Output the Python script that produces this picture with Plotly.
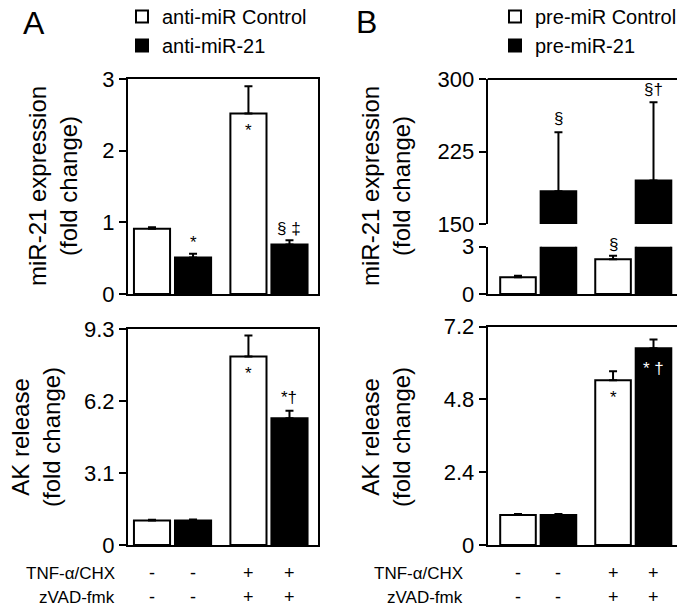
import plotly.graph_objects as go

# ---- data -------------------------------------------------------------
tnf_signs = ["-", "-", "+", "+"]
zvad_signs = ["-", "-", "+", "+"]

# Panel A: anti-miR control vs anti-miR-21
a_mir_ctrl = [0.91, 2.52]
a_mir_ctrl_err = [0.02, 0.38]
a_mir_21 = [0.51, 0.69]
a_mir_21_err = [0.05, 0.06]
a_ak_ctrl = [1.05, 8.12]
a_ak_ctrl_err = [0.04, 0.90]
a_ak_21 = [1.06, 5.46]
a_ak_21_err = [0.04, 0.32]

# Panel B: pre-miR control vs pre-miR-21
b_mir_ctrl = [1.07, 2.21]
b_mir_ctrl_err = [0.08, 0.22]
b_mir_21 = [184, 195]
b_mir_21_err = [61, 81]
b_ak_ctrl = [0.99, 5.43]
b_ak_ctrl_err = [0.03, 0.30]
b_ak_21 = [0.99, 6.49]
b_ak_21_err = [0.03, 0.29]

# ---- layout constants ---------------------------------------------------
# the page body has an 8px margin, so the figure is shrunk by that and all
# positions below are given in window pixels
OFF = 8
W, H = 685 - OFF, 607 - OFF
FONT = "Arial, Liberation Sans, sans-serif"
X_CTRL = [0, 2.35]
X_TREAT = [1, 3.35]
X_ALL = [0, 1, 2.35, 3.35]
BAR_W = 0.88


def px(x):
    return (x - OFF) / W


def py(y):
    return 1 - (y - OFF) / H


A_X = [px(128), px(318)]
B_X = [px(487.7), px(681)]
TOP_Y = [py(294), py(79)]
BOT_Y = [py(545), py(329)]
B_UP_Y = [py(224), py(79)]
B_LO_Y = [py(294), py(246.7)]
B_BOT_Y = [py(545), py(326.7)]

fig = go.Figure()


def bars(x, y, err, color, name, xa, ya, legend=None):
    fig.add_trace(go.Bar(
        x=x, y=y, width=BAR_W, name=name,
        marker=dict(color=color, line=dict(color="black", width=2)),
        error_y=dict(type="data", array=err, arrayminus=[0] * len(err), symmetric=False,
                     color="black", thickness=2, width=4),
        xaxis=xa, yaxis=ya, showlegend=legend is not None, legend=legend or "legend",
        legendgroup=name,
    ))


# A top / bottom
bars(X_CTRL, a_mir_ctrl, a_mir_ctrl_err, "white", "anti-miR Control", "x", "y", "legend")
bars(X_TREAT, a_mir_21, a_mir_21_err, "black", "anti-miR-21", "x", "y", "legend")
bars(X_CTRL, a_ak_ctrl, a_ak_ctrl_err, "white", "anti-miR Control", "x2", "y2")
bars(X_TREAT, a_ak_21, a_ak_21_err, "black", "anti-miR-21", "x2", "y2")

# B top (broken axis: lower y3, upper y4) / bottom
for ya in ["y3", "y4"]:
    first = ya == "y3"
    bars(X_CTRL, b_mir_ctrl, b_mir_ctrl_err, "white", "pre-miR Control", "x3", ya,
         "legend2" if first else None)
    bars(X_TREAT, b_mir_21, b_mir_21_err, "black", "pre-miR-21", "x3", ya,
         "legend2" if first else None)
bars(X_CTRL, b_ak_ctrl, b_ak_ctrl_err, "white", "pre-miR Control", "x4", "y5")
bars(X_TREAT, b_ak_21, b_ak_21_err, "black", "pre-miR-21", "x4", "y5")

tickfont = dict(family=FONT, size=22, color="black")
yax = dict(showline=True, linecolor="black", linewidth=2, ticks="outside", ticklen=7,
           tickwidth=2, tickcolor="black", showgrid=False, zeroline=False,
           tickfont=tickfont, automargin=False)
xax = dict(showline=True, linecolor="black", linewidth=2, ticks="", showticklabels=False,
           showgrid=False, zeroline=False, automargin=False)

fig.update_layout(
    width=W, height=H, margin=dict(l=0, r=0, t=0, b=0, autoexpand=False),
    paper_bgcolor="white", plot_bgcolor="white", barmode="overlay",
    font=dict(family=FONT, color="black"),
    xaxis=dict(**xax, domain=A_X, range=[-0.585, 4.045], anchor="y", mirror=True),
    yaxis=dict(**yax, domain=TOP_Y, range=[0, 3], tickvals=[0, 1, 2, 3], anchor="x", mirror=True),
    xaxis2=dict(**xax, domain=A_X, range=[-0.585, 4.045], anchor="y2", mirror=True),
    yaxis2=dict(**yax, domain=BOT_Y, range=[0, 9.3], tickvals=[0, 3.1, 6.2, 9.3],
                ticktext=["0", "3.1", "6.2", "9.3"], anchor="x2", mirror=True),
    xaxis3=dict(**xax, domain=B_X, range=[-0.749, 4.03], anchor="y3"),
    yaxis3=dict(**yax, domain=B_LO_Y, range=[0, 3], tickvals=[0, 3], anchor="x3"),
    yaxis4=dict(**yax, domain=B_UP_Y, range=[150, 300], tickvals=[150, 225, 300], anchor="x3"),
    xaxis4=dict(**xax, domain=B_X, range=[-0.749, 4.03], anchor="y5", mirror=True),
    yaxis5=dict(**yax, domain=B_BOT_Y, range=[0, 7.2], tickvals=[0, 2.4, 4.8, 7.2],
                ticktext=["0", "2.4", "4.8", "7.2"], anchor="x4", mirror=True),
    legend=dict(x=px(122), y=py(-3), xanchor="left", yanchor="top", itemwidth=30,
                font=dict(family=FONT, size=20), tracegroupgap=0, bgcolor="rgba(0,0,0,0)"),
    legend2=dict(x=px(495), y=py(-3), xanchor="left", yanchor="top", itemwidth=30,
                 font=dict(family=FONT, size=20), tracegroupgap=0, bgcolor="rgba(0,0,0,0)"),
)

# frame of the broken panel: top and right edges
fig.add_shape(type="line", xref="paper", yref="paper", x0=B_X[0], x1=B_X[1],
              y0=B_UP_Y[1], y1=B_UP_Y[1], line=dict(color="black", width=2))
fig.add_shape(type="line", xref="paper", yref="paper", x0=B_X[1], x1=B_X[1],
              y0=B_LO_Y[0], y1=B_UP_Y[1], line=dict(color="black", width=2))


def label(text, x, y, size, xanchor="center", angle=0):
    fig.add_annotation(text=text, x=px(x), y=py(y), xref="paper", yref="paper",
                       xanchor=xanchor, yanchor="middle", textangle=angle,
                       showarrow=False, font=dict(family=FONT, size=size))


# panel letters
label("A", 34, 23, 32)
label("B", 366, 22, 32)

# y titles
label("miR-21 expression<br>(fold change)", 53, 186, 24, angle=-90)
label("AK release<br>(fold change)", 36, 437, 24, angle=-90)
label("miR-21 expression<br>(fold change)", 386, 186, 24, angle=-90)
label("AK release<br>(fold change)", 386, 437, 24, angle=-90)


# significance marks
def mark(text, xa, ya, x, y, shift, color="black", size=17):
    fig.add_annotation(text=text, x=x, y=y, xref=xa, yref=ya, showarrow=False,
                       xanchor="center", yanchor="middle",
                       yshift=shift, font=dict(family=FONT, size=size, color=color))


mark("*", "x", "y", X_TREAT[0], a_mir_21[0] + a_mir_21_err[0], 11)
mark("*", "x", "y", X_CTRL[1], a_mir_ctrl[1], -17)
mark("§ ‡", "x", "y", X_TREAT[1], a_mir_21[1] + a_mir_21_err[1], 12)
mark("*", "x2", "y2", X_CTRL[1], a_ak_ctrl[1], -17)
mark("*†", "x2", "y2", X_TREAT[1], a_ak_21[1] + a_ak_21_err[1], 13)
mark("§", "x3", "y4", X_TREAT[0], b_mir_21[0] + b_mir_21_err[0], 14)
mark("§†", "x3", "y4", X_TREAT[1], b_mir_21[1] + b_mir_21_err[1], 13)
mark("§", "x3", "y3", X_CTRL[1], b_mir_ctrl[1] + b_mir_ctrl_err[1], 11)
mark("*", "x4", "y5", X_CTRL[1], b_ak_ctrl[1], -17)
mark("* †", "x4", "y5", X_TREAT[1], b_ak_21[1], -20, color="white")

# treatment rows under the bottom panels
for xa, lx in [("x2", 117), ("x4", 465)]:
    for text, signs, ry in [("TNF-α/CHX", tnf_signs, 573), ("zVAD-fmk", zvad_signs, 597)]:
        label(text, lx, ry, 17, xanchor="right")
        for xv, s in zip(X_ALL, signs):
            fig.add_annotation(text=s, x=xv, y=py(ry), xref=xa, yref="paper",
                               xanchor="center", yanchor="middle",
                               showarrow=False, font=dict(family=FONT, size=18))

fig.write_html("out.html")
